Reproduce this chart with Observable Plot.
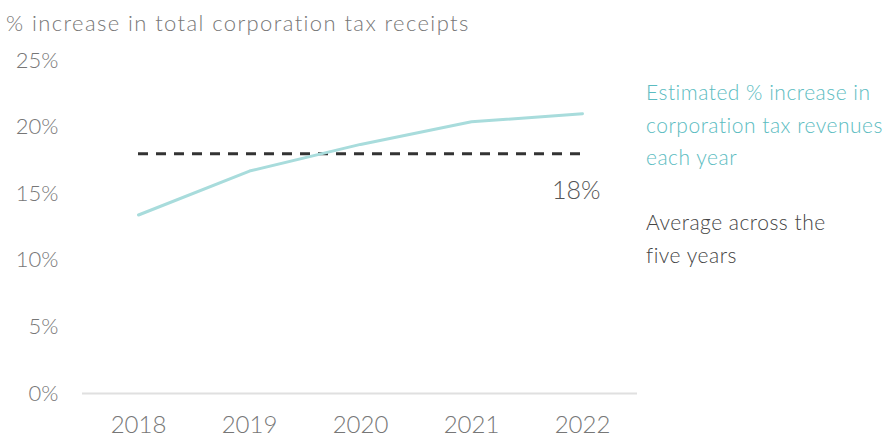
<!DOCTYPE html>
<html><head><meta charset="utf-8">
<script src="https://cdn.jsdelivr.net/npm/d3@7"></script>
<script src="https://cdn.jsdelivr.net/npm/@observablehq/plot@0.6"></script>
<style>
body{margin:0;background:#fff;font-family:Lato,"Open Sans",sans-serif;font-weight:300}
#wrap{position:relative;width:889px;height:438px;overflow:hidden;background:#fff}
#sub{position:absolute;left:6px;top:9px;font-size:22px;letter-spacing:1.4px;color:#777;white-space:nowrap}
#chart{position:absolute;left:0;top:40px}
.leg{position:absolute;left:646px;font-size:21px;letter-spacing:0.5px;line-height:32.5px;white-space:nowrap}
</style></head><body>
<div id="wrap">
<div id="sub">% increase in total corporation tax receipts</div>
<div id="chart"></div>
<div class="leg" style="top:76px;color:#5bbcc1">Estimated % increase in<br>corporation tax revenues<br>each year</div>
<div class="leg" style="top:206px;color:#444">Average across the<br>five years</div>
</div>
<script>
const years = ["2018","2019","2020","2021","2022"];
const increase = [13.4, 16.7, 18.7, 20.4, 21.0];
const average = 18;
const yTicks = [0, 5, 10, 15, 20, 25];

const data = years.map((y, i) => ({year: y, value: increase[i]}));

const plot = Plot.plot({
  width: 889, height: 398,
  marginLeft: 82, marginRight: 252, marginTop: 20, marginBottom: 45,
  style: {fontFamily: "Lato, 'Open Sans', sans-serif", fontWeight: 300, color: "#777", background: "transparent"},
  x: {type: "point", domain: years, padding: 0.5, label: null},
  y: {domain: [0, 25], label: null},
  marks: [
    Plot.ruleY([0], {stroke: "#e0e0e0", strokeWidth: 2}),
    Plot.axisY({ticks: yTicks, tickFormat: d => d + "%", tickSize: 0, tickPadding: 24, label: null, fontSize: 22}),
    Plot.axisX({tickSize: 0, tickPadding: 22, label: null, fontSize: 24}),
    Plot.ruleY([average], {x1: () => years[0], x2: () => years[years.length - 1], stroke: "#333", strokeWidth: 3, strokeDasharray: "10,8"}),
    Plot.line(data, {x: "year", y: "value", stroke: "#a8dcdc", strokeWidth: 3}),
    Plot.text([average], {x: () => years[years.length - 1], y: d => d, text: d => d + "%", textAnchor: "end", dx: 18, dy: 37, fontSize: 25, fill: "#555"})
  ]
});
document.getElementById("chart").appendChild(plot);
</script>
</body></html>
